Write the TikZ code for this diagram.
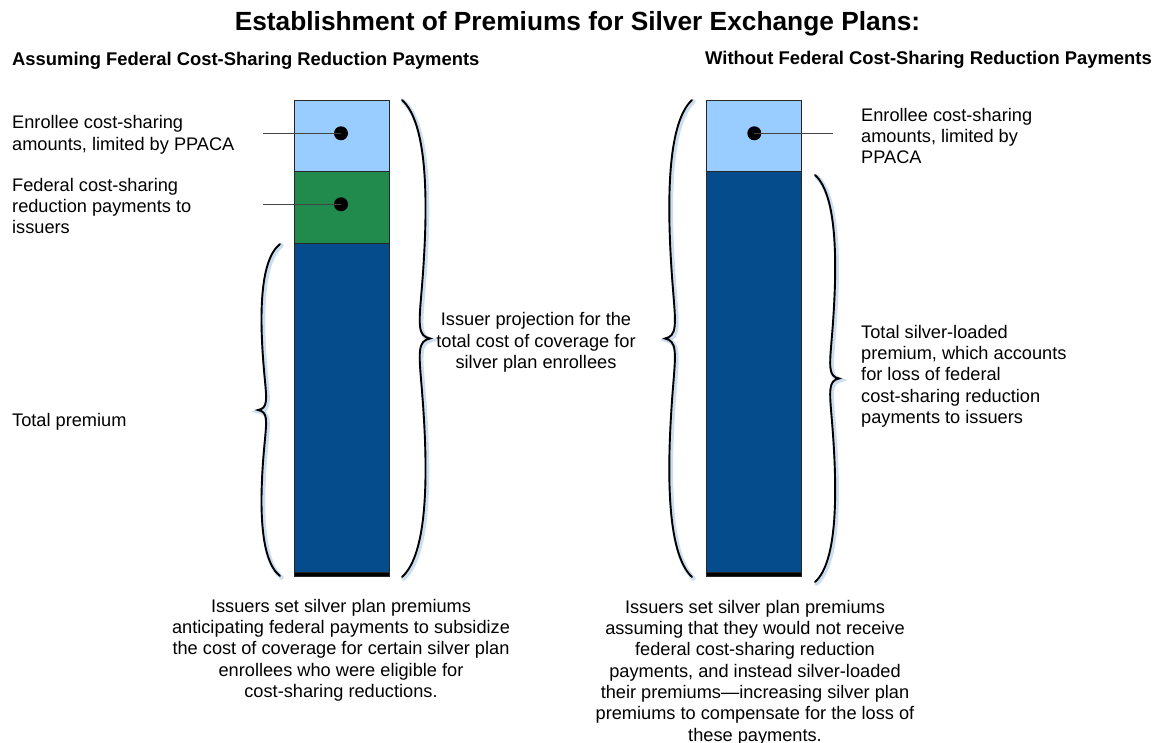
\documentclass[tikz,border=0pt]{standalone}
\usepackage{fontspec}
\setmainfont{Liberation Sans}
\definecolor{lightb}{HTML}{99CCFF}
\definecolor{greenb}{HTML}{218B4E}
\definecolor{darkb}{HTML}{054C8C}
\definecolor{leadc}{HTML}{444444}
\definecolor{glow}{HTML}{A9C8E6}
\newcommand\mybrace[4]{% x0, ytop, ybot, xtip
  \pgfmathsetmacro\bw{#4-#1}%
  \pgfmathsetmacro\bH{(#3-#2)/2}%
  \pgfmathsetmacro\bm{(#2+#3)/2}%
  \def\bpath{(#1,#2) .. controls ({#1+0.95*\bw},{#2+0.1*\bH}) and ({#1+0.95*\bw},{#2+0.45*\bH}) .. ({#1+0.7*\bw},{\bm-0.2*\bH})
    .. controls ({#1+0.6*\bw},{\bm-0.06*\bH}) and ({#1+0.55*\bw},{\bm-0.01*\bH}) .. (#4,\bm)
    .. controls ({#1+0.55*\bw},{\bm+0.01*\bH}) and ({#1+0.6*\bw},{\bm+0.06*\bH}) .. ({#1+0.7*\bw},{\bm+0.2*\bH})
    .. controls ({#1+0.95*\bw},{#3-0.45*\bH}) and ({#1+0.95*\bw},{#3-0.1*\bH}) .. (#1,#3)}%
  \draw[braceglow] \bpath;
  \draw[braceline] \bpath;
}
\begin{document}
\begin{tikzpicture}[x=1pt,y=-1pt,
  braceline/.style={line width=1.9pt, black, line cap=round},
  braceglow/.style={line width=4.5pt, glow, opacity=0.6, shift={(1.5,1.5)}, line cap=round},
  segment/.style={draw=black!85, line width=0.9pt},
  dot/.style={circle, fill=black, inner sep=0pt, minimum size=14pt},
  leaderline/.style={leadc, line width=1.5pt},
  body/.style={inner sep=0pt, font=\fontsize{18.2}{21.3}\selectfont},
  head/.style={inner sep=0pt, font=\bfseries\fontsize{18.4}{21}\selectfont},
  title/.style={inner sep=0pt, font=\bfseries\fontsize{26.3}{30}\selectfont}]
\useasboundingbox (0,0) rectangle (1154,743);
\fill[white] (0,0) rectangle (1154,743);

% titles
\node[title, anchor=base] (t) at (577.5,31) {Establishment of Premiums for Silver Exchange Plans:};
\node[head, anchor=base west] (hl) at (12,66) {Assuming Federal Cost-Sharing Reduction Payments};
\node[head, anchor=base east] (hr) at (1152,64.5) {Without Federal Cost-Sharing Reduction Payments};

% left bar
\filldraw[segment, fill=lightb] (294,100) rectangle (389,171.5);
\filldraw[segment, fill=greenb] (294,171.5) rectangle (389,243);
\filldraw[segment, fill=darkb] (294,243) rectangle (389,572);
\filldraw[segment, fill=black] (294,572) rectangle (389,576);

% right bar
\filldraw[segment, fill=lightb] (706,100) rectangle (801,171.5);
\filldraw[segment, fill=darkb] (706,171.5) rectangle (801,572);
\filldraw[segment, fill=black] (706,572) rectangle (801,576);

% braces
\mybrace{402}{100}{577}{430}
\mybrace{280}{244}{576}{258}
\mybrace{692}{100}{577}{665}
\mybrace{815}{175}{582}{839}

% dots and leaders
\node[dot] (d1) at (341,133.3) {};
\node[dot] (d2) at (341,204.3) {};
\node[dot] (d3) at (754.3,133.3) {};
\coordinate (l1) at (263,133.3);
\coordinate (l2) at (263,204.3);
\coordinate (l3) at (832.5,133.3);
\draw[leaderline] (l1) -- (d1.center);
\draw[leaderline] (l2) -- (d2.center);
\draw[leaderline] (l3) -- (d3.center);

% labels
\node[body, anchor=north west, align=left] (a1) at (12,115.5) {Enrollee cost-sharing\\amounts, limited by PPACA};
\node[body, anchor=north west, align=left] (a2) at (12,178) {Federal cost-sharing\\reduction payments to\\issuers};
\node[body, anchor=north west, align=left] (a3) at (12,413.5) {Total premium};
\node[body, anchor=north, align=center] (m) at (536,312.5) {Issuer projection for the\\total cost of coverage for\\silver plan enrollees};
\node[body, anchor=north west, align=left] (b1) at (861,108) {Enrollee cost-sharing\\amounts, limited by\\PPACA};
\node[body, anchor=north west, align=left] (b2) at (861,325) {Total silver-loaded\\premium, which accounts\\for loss of federal\\cost-sharing reduction\\payments to issuers};
\node[body, anchor=north, align=center] (c1) at (341,599) {Issuers set silver plan premiums\\anticipating federal payments to subsidize\\the cost of coverage for certain silver plan\\enrollees who were eligible for\\cost-sharing reductions.};
\node[body, anchor=north, align=center] (c2) at (755,600) {Issuers set silver plan premiums\\assuming that they would not receive\\federal cost-sharing reduction\\payments, and instead silver-loaded\\their premiums---increasing silver plan\\premiums to compensate for the loss of\\these payments.};
\end{tikzpicture}
\end{document}
